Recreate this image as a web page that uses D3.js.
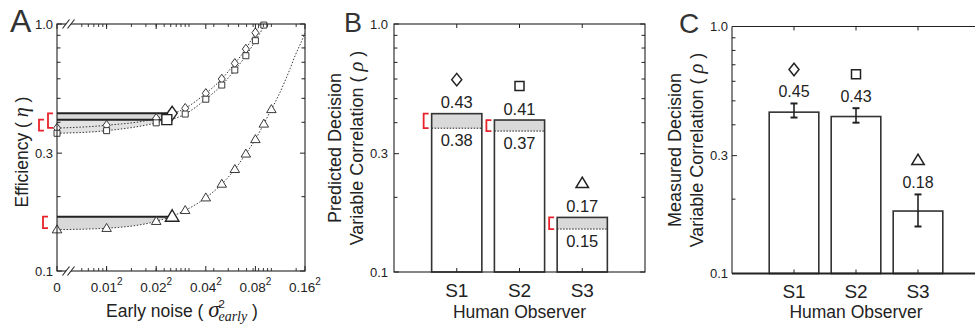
<!DOCTYPE html>
<html><head><meta charset="utf-8">
<script src="https://cdn.jsdelivr.net/npm/d3@7"></script>
<style>
body{margin:0;background:#fff}
svg{display:block;font-family:"Liberation Sans",Arial,Helvetica,sans-serif}
</style></head>
<body><svg id="chart" width="975" height="327"></svg>
<script>
// ---------------- data ----------------
const observers = ["S1", "S2", "S3"];
const markerShapes = ["diamond", "square", "triangle"];
const predictedMax = [0.435, 0.41, 0.166];
const predictedMin = [0.38, 0.37, 0.149];
const predictedMaxLabels = ["0.43", "0.41", "0.17"];
const predictedMinLabels = ["0.38", "0.37", "0.15"];
const measured = [0.45, 0.432, 0.179];
const measuredLow = [0.428, 0.408, 0.155];
const measuredHigh = [0.488, 0.467, 0.209];
const measuredLabels = ["0.45", "0.43", "0.18"];
// Panel A: efficiency vs early noise (sigma values, axis is sigma^2)
const sigmaEarly = [0, 0.01, 0.02, 0.03, 0.04, 0.05, 0.06, 0.07, 0.08, 0.09, 0.10];
const effS1 = [0.379, 0.389, 0.415, 0.456, 0.524, 0.599, 0.693, 0.792, 0.922, null, null];
const effS2 = [0.361, 0.370, 0.398, 0.432, 0.496, 0.566, 0.651, 0.744, 0.856, 0.99, null];
const effS3 = [0.147, 0.149, 0.159, 0.176, 0.198, 0.225, 0.258, 0.298, 0.341, 0.394, 0.451];
const fitTailSigma = [[0.086], [0.0915], [0.11, 0.12, 0.13, 0.14, 0.15, 0.16]];
const fitTailEff = [[1.0], [1.02], [0.51, 0.58, 0.66, 0.75, 0.83, 0.92]];
const bestSigma = [0.025, 0.0232, 0.025];
const xTickSigma = [0, 0.01, 0.02, 0.04, 0.08, 0.16];
const xTickLabels = ["0", "0.01", "0.02", "0.04", "0.08", "0.16"];
const yTickValues = [0.1, 0.3, 1.0];
const yTickLabels = ["0.1", "0.3", "1.0"];
const yMinorTicks = [0.2, 0.4, 0.5, 0.6, 0.7, 0.8, 0.9];

// ---------------- helpers ----------------
const svg = d3.select("#chart");
const INK = "#222";
const RED = "#e8232b";
const GRAY = "#d9d9d9";

function shapePath(type, w, h) {
  if (type === "diamond") return `M0,${-h/2}L${w/2},0L0,${h/2}L${-w/2},0Z`;
  if (type === "square") return `M${-w/2},${-w/2}h${w}v${w}h${-w}Z`;
  return `M0,${-h*0.6}L${w/2},${h*0.4}L${-w/2},${h*0.4}Z`;
}
const smallSize = {diamond:[7,9.5], square:[6,6], triangle:[9.5,8]};
const bigSize = {diamond:[10,14], square:[10,10], triangle:[13.5,11.5]};
const barMarkSize = {diamond:[10,12.5], square:[9,9], triangle:[12.5,10.5]};

function marker(g, type, x, y, size, sw) {
  g.append("path").attr("d", shapePath(type, size[type][0], size[type][1]))
    .attr("transform", `translate(${x},${y})`)
    .attr("fill", "#fff").attr("stroke", INK).attr("stroke-width", sw);
}
function yAxisTicks(g, y, x, dir, values, len) {
  values.forEach(v => g.append("line")
    .attr("x1", x).attr("x2", x + dir*len).attr("y1", y(v)).attr("y2", y(v))
    .attr("stroke", INK).attr("stroke-width", 1));
}
function yAxisLabels(g, y, x) {
  yTickValues.forEach((v, i) => g.append("text").attr("x", x).attr("y", y(v))
    .attr("dy", "0.36em").attr("text-anchor", "end").attr("font-size", 13)
    .attr("fill", INK).text(yTickLabels[i]));
}
function bracket(g, x, y1, y2) {
  g.append("path").attr("d", `M${x+5},${y1}H${x}V${y2}H${x+5}`)
    .attr("fill", "none").attr("stroke", RED).attr("stroke-width", 1.8);
}
function rotLabel(g, x, y, parts, size) {
  const t = g.append("text").attr("transform", `translate(${x},${y}) rotate(-90)`)
    .attr("text-anchor", "middle").attr("font-size", size).attr("fill", INK);
  parts.forEach(p => {
    const s = t.append("tspan").text(p.t);
    if (p.it) s.attr("font-family", "'Liberation Serif','DejaVu Serif',serif").attr("font-style", "italic").attr("font-size", size*1.15);
  });
}

// ---------------- Panel A ----------------
const A = {l: 57, r: 305, t: 24, b: 271};
const xA = d3.scaleLog().domain([0.005*0.005, 0.16*0.16]).range([A.l, A.r]);
const sx = s => xA(s === 0 ? 0.005*0.005 : s*s);
const yA = d3.scaleLog().domain([0.1, 1]).range([A.b, A.t]);
const gA = svg.append("g");

gA.append("clipPath").attr("id", "clipA").append("rect")
  .attr("x", A.l).attr("y", A.t).attr("width", A.r - A.l).attr("height", A.b - A.t);

const effSeries = [effS1, effS2, effS3];
const seriesPts = effSeries.map((eff, i) => {
  const pts = sigmaEarly.map((s, j) => ({s, e: eff[j]})).filter(d => d.e != null);
  const tail = fitTailSigma[i].map((s, j) => ({s, e: fitTailEff[i][j], fit: true}));
  return pts.concat(tail);
});

// grey areas
seriesPts.forEach((pts, i) => {
  const cid = "clipArea" + i;
  gA.append("clipPath").attr("id", cid).append("rect")
    .attr("x", A.l).attr("y", A.t).attr("width", sx(bestSigma[i]) - A.l).attr("height", A.b - A.t);
  const area = d3.area().x(d => sx(d.s)).y0(yA(predictedMax[i])).y1(d => yA(d.e)).curve(d3.curveMonotoneX);
  gA.append("path").attr("d", area(pts)).attr("fill", i === 1 ? "#e2e2e2" : GRAY)
    .attr("clip-path", `url(#${cid})`);
});
// dotted fits
const lineA = d3.line().x(d => sx(d.s)).y(d => yA(d.e)).curve(d3.curveMonotoneX);
seriesPts.forEach(pts => {
  gA.append("path").attr("d", lineA(pts)).attr("fill", "none").attr("stroke", INK)
    .attr("stroke-width", 0.9).attr("stroke-dasharray", "1.5,1.7").attr("clip-path", "url(#clipA)");
});
// black model lines
predictedMax.forEach((v, i) => {
  gA.append("line").attr("x1", A.l).attr("x2", sx(bestSigma[i])).attr("y1", yA(v)).attr("y2", yA(v))
    .attr("stroke", INK).attr("stroke-width", 2);
});
// small markers
seriesPts.forEach((pts, i) => {
  pts.filter(d => !d.fit && d.e <= 1.0).forEach(d => marker(gA, markerShapes[i], sx(d.s), yA(d.e), smallSize, 0.9));
});
// big markers
predictedMax.forEach((v, i) => marker(gA, markerShapes[i], sx(bestSigma[i]), yA(v), bigSize, 1.4));

// frame
gA.append("rect").attr("x", A.l).attr("y", A.t).attr("width", A.r - A.l).attr("height", A.b - A.t)
  .attr("fill", "none").attr("stroke", INK).attr("stroke-width", 1.1);
yAxisTicks(gA, yA, A.l, 1, yTickValues, 5);
yAxisTicks(gA, yA, A.l, 1, yMinorTicks, 3.5);
yAxisTicks(gA, yA, A.r, -1, yTickValues, 5);
yAxisTicks(gA, yA, A.r, -1, yMinorTicks, 3.5);
yAxisLabels(gA, yA, A.l - 4);
const xMinor = [];
[-5, -4, -3, -2].forEach(n => { for (let k = 1; k <= 9; k++) { const v = k * Math.pow(10, n); if (v >= 5e-5 && v <= 0.0256) xMinor.push(v); } });
[[A.b, -1], [A.t, 1]].forEach(([yy, dir]) => {
  xMinor.forEach(v => gA.append("line").attr("x1", xA(v)).attr("x2", xA(v)).attr("y1", yy).attr("y2", yy + dir*3)
    .attr("stroke", INK).attr("stroke-width", 0.9));
  xTickSigma.forEach(s => gA.append("line").attr("x1", sx(s)).attr("x2", sx(s)).attr("y1", yy).attr("y2", yy + dir*5)
    .attr("stroke", INK).attr("stroke-width", 1));
  const bxk = 66;
  gA.append("rect").attr("x", bxk).attr("y", yy - 2).attr("width", 5).attr("height", 4).attr("fill", "#fff");
  [bxk, bxk + 5].forEach(x0 => gA.append("line").attr("x1", x0 - 3.5).attr("y1", yy + 4.5).attr("x2", x0 + 3.5).attr("y2", yy - 4.5)
    .attr("stroke", INK).attr("stroke-width", 1.1));
});
xTickSigma.forEach((s, i) => {
  const t = gA.append("text").attr("x", sx(s)).attr("y", 292).attr("text-anchor", "middle")
    .attr("font-size", 13.5).attr("fill", INK);
  t.append("tspan").text(xTickLabels[i]);
  if (s !== 0) t.append("tspan").attr("dy", -7).attr("font-size", 10).text("2");
});
{
  const t = gA.append("text").attr("x", 182).attr("y", 317).attr("text-anchor", "middle")
    .attr("font-size", 17.5).attr("fill", INK);
  t.append("tspan").text("Early noise ( ");
  t.append("tspan").attr("font-family", "'Liberation Serif','DejaVu Serif',serif").attr("font-style", "italic").attr("font-size", 23).text("σ");
  t.append("tspan").attr("dy", -9).attr("dx", -1).attr("font-size", 11.5).text("2");
  t.append("tspan").attr("dy", 13).attr("dx", -6.5).attr("font-family", "'Liberation Serif','DejaVu Serif',serif").attr("font-style", "italic").attr("font-size", 14).text("early");
  t.append("tspan").attr("dy", -4).text(" )");
}
rotLabel(gA, 28, 152, [{t: "Efficiency ( "}, {t: "η", it: true}, {t: " )"}], 17.5);
const bracketOffsetA = [-9, -18, -14];
predictedMax.forEach((v, i) => bracket(gA, A.l + bracketOffsetA[i], yA(v), yA(predictedMin[i])));
gA.append("text").attr("x", 10).attr("y", 32).attr("font-size", 32).attr("fill", "#333").text("A");

// ---------------- Panel B ----------------
const B = {l: 394, r: 645, t: 24, b: 272};
const xB = d3.scaleLinear().domain([0, 4]).range([B.l, B.r]);
const yB = d3.scaleLog().domain([0.1, 1]).range([B.b, B.t]);
const gB = svg.append("g");
const bwB = xB(0.8) - xB(0);
observers.forEach((o, i) => {
  const c = xB(i + 1), x0 = c - bwB/2;
  gB.append("rect").attr("x", x0).attr("y", yB(predictedMax[i])).attr("width", bwB)
    .attr("height", yB(predictedMin[i]) - yB(predictedMax[i])).attr("fill", GRAY);
  gB.append("line").attr("x1", x0).attr("x2", x0 + bwB).attr("y1", yB(predictedMin[i])).attr("y2", yB(predictedMin[i]))
    .attr("stroke", INK).attr("stroke-width", 1).attr("stroke-dasharray", "1.5,1.5");
  gB.append("rect").attr("x", x0).attr("y", yB(predictedMax[i])).attr("width", bwB)
    .attr("height", B.b - yB(predictedMax[i])).attr("fill", "none").attr("stroke", "#333").attr("stroke-width", 1.6);
  gB.append("text").attr("x", c).attr("y", yB(predictedMax[i]) - 5.5).attr("text-anchor", "middle")
    .attr("font-size", 16.5).attr("fill", INK).text(predictedMaxLabels[i]);
  gB.append("text").attr("x", c).attr("y", yB(predictedMin[i]) + 17.5).attr("text-anchor", "middle")
    .attr("font-size", 16.5).attr("fill", INK).text(predictedMinLabels[i]);
  marker(gB, markerShapes[i], c, yB(predictedMax[i]) - 34, barMarkSize, 1.5);
  bracket(gB, x0 - 8, yB(predictedMax[i]), yB(predictedMin[i]));
  gB.append("text").attr("x", c).attr("y", 297).attr("text-anchor", "middle").attr("font-size", 19).attr("fill", INK).text(o);
  [[B.b, -1], [B.t, 1]].forEach(([yy, dir]) => gB.append("line").attr("x1", c).attr("x2", c)
    .attr("y1", yy).attr("y2", yy + dir*4).attr("stroke", INK));
});
gB.append("rect").attr("x", B.l).attr("y", B.t).attr("width", B.r - B.l).attr("height", B.b - B.t)
  .attr("fill", "none").attr("stroke", INK).attr("stroke-width", 1.1);
yAxisTicks(gB, yB, B.l, 1, yTickValues, 5);
yAxisTicks(gB, yB, B.l, 1, yMinorTicks, 3.5);
yAxisTicks(gB, yB, B.r, -1, yTickValues, 5);
yAxisTicks(gB, yB, B.r, -1, yMinorTicks, 3.5);
yAxisLabels(gB, yB, B.l - 6);
gB.append("text").attr("x", (B.l + B.r)/2).attr("y", 318).attr("text-anchor", "middle").attr("font-size", 17.5).attr("fill", INK).text("Human Observer");
rotLabel(gB, 341, 148, [{t: "Predicted Decision"}], 18);
rotLabel(gB, 363, 148, [{t: "Variable Correlation ( "}, {t: "ρ", it: true}, {t: " )"}], 18);
gB.append("text").attr("x", 344).attr("y", 32).attr("font-size", 27).attr("fill", "#333").text("B");

// ---------------- Panel C ----------------
const C = {l: 732, r: 980, t: 26.5, b: 273.5};
const xC = d3.scaleLinear().domain([0, 4]).range([C.l, C.r]);
const yC = d3.scaleLog().domain([0.1, 1]).range([C.b, C.t]);
const gC = svg.append("g");
const bwC = xC(0.8) - xC(0);
observers.forEach((o, i) => {
  const c = xC(i + 1), x0 = c - bwC/2;
  gC.append("rect").attr("x", x0).attr("y", yC(measured[i])).attr("width", bwC)
    .attr("height", C.b - yC(measured[i])).attr("fill", "#fff").attr("stroke", "#333").attr("stroke-width", 1.6);
  const yl = yC(measuredLow[i]), yh = yC(measuredHigh[i]);
  gC.append("line").attr("x1", c).attr("x2", c).attr("y1", yl).attr("y2", yh).attr("stroke", INK).attr("stroke-width", 1.6);
  [yl, yh].forEach(yy => gC.append("line").attr("x1", c - 3.5).attr("x2", c + 3.5).attr("y1", yy).attr("y2", yy)
    .attr("stroke", INK).attr("stroke-width", 2));
  gC.append("text").attr("x", c).attr("y", yh - 6.5).attr("text-anchor", "middle")
    .attr("font-size", 16).attr("fill", INK).text(measuredLabels[i]);
  marker(gC, markerShapes[i], c, yh - 34, barMarkSize, 1.5);
  gC.append("text").attr("x", c).attr("y", 298).attr("text-anchor", "middle").attr("font-size", 19).attr("fill", INK).text(o);
  [[C.b, -1], [C.t, 1]].forEach(([yy, dir]) => gC.append("line").attr("x1", c).attr("x2", c)
    .attr("y1", yy).attr("y2", yy + dir*4).attr("stroke", INK));
});
gC.append("line").attr("x1", C.l).attr("x2", 976).attr("y1", C.t).attr("y2", C.t).attr("stroke", INK).attr("stroke-width", 1.1);
gC.append("line").attr("x1", C.l).attr("x2", 976).attr("y1", C.b).attr("y2", C.b).attr("stroke", INK).attr("stroke-width", 2);
gC.append("line").attr("x1", C.l).attr("x2", C.l).attr("y1", C.t).attr("y2", C.b).attr("stroke", INK).attr("stroke-width", 1.1);
yAxisTicks(gC, yC, C.l, 1, yTickValues, 5);
yAxisTicks(gC, yC, C.l, 1, yMinorTicks, 3.5);
yAxisLabels(gC, yC, C.l - 4);
gC.append("text").attr("x", xC(2)).attr("y", 318).attr("text-anchor", "middle").attr("font-size", 17.5).attr("fill", INK).text("Human Observer");
rotLabel(gC, 681, 150, [{t: "Measured Decision"}], 18);
rotLabel(gC, 703, 150, [{t: "Variable Correlation ( "}, {t: "ρ", it: true}, {t: " )"}], 18);
gC.append("text").attr("x", 679).attr("y", 33).attr("font-size", 28).attr("fill", "#333").text("C");
</script>
</body></html>
